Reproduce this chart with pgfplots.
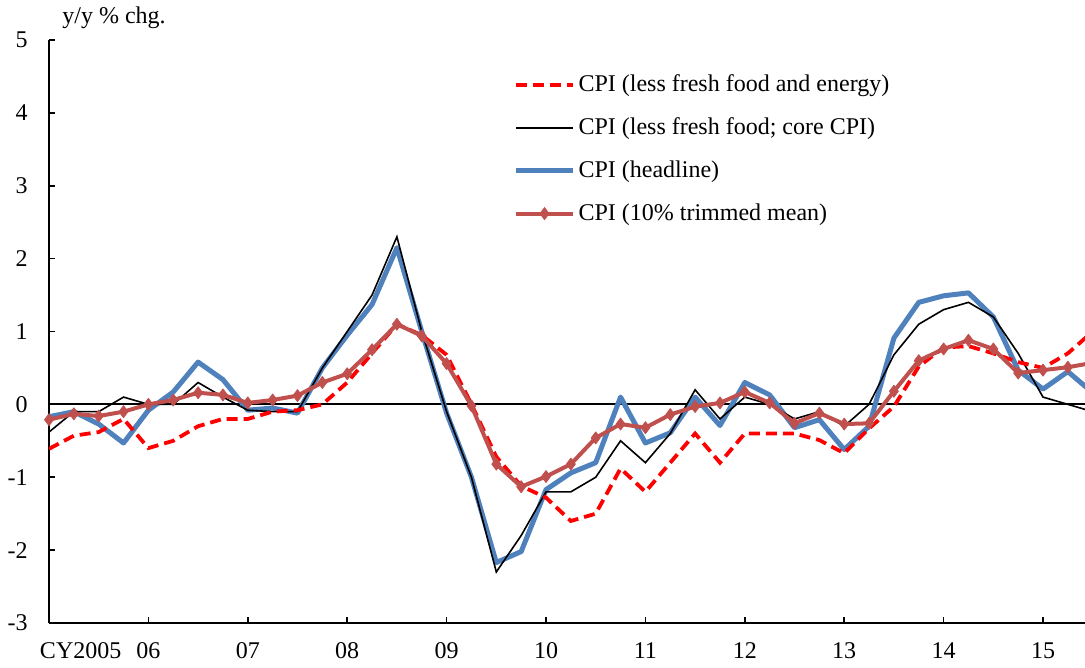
\documentclass[border=0pt]{standalone}
\usepackage{fontspec}
\setmainfont{Liberation Serif}
\usepackage{pgfplots}
\pgfplotsset{compat=1.18}
\usepackage{pgfplotstable}

\definecolor{cpiRed}{RGB}{255,0,0}
\definecolor{cpiBlue}{RGB}{79,129,189}
\definecolor{cpiTrim}{RGB}{192,80,77}

% quarterly, q=0 is 2005Q1
\pgfplotstableread{
q  ex     core   head   trim
0  -0.61  -0.38  -0.17  -0.21
1  -0.43  -0.10  -0.10  -0.13
2  -0.38  -0.10  -0.27  -0.16
3  -0.20   0.10  -0.53  -0.10
4  -0.60   0.00  -0.08   0.00
5  -0.50   0.00   0.17   0.06
6  -0.30   0.30   0.58   0.16
7  -0.20   0.10   0.34   0.13
8  -0.20  -0.08  -0.08   0.02
9  -0.10  -0.10  -0.05   0.06
10 -0.08  -0.10  -0.12   0.12
11  0.00   0.50   0.50   0.30
12  0.30   1.00   0.95   0.42
13  0.70   1.50   1.37   0.75
14  1.10   2.30   2.15   1.10
15  0.95   1.00   1.00   0.94
16  0.68  -0.10  -0.12   0.56
17  0.00  -1.00  -1.00  -0.02
18 -0.72  -2.30  -2.17  -0.82
19 -1.12  -1.80  -2.02  -1.13
20 -1.28  -1.20  -1.17  -0.99
21 -1.60  -1.20  -0.94  -0.82
22 -1.50  -1.00  -0.80  -0.46
23 -0.88  -0.50   0.10  -0.27
24 -1.20  -0.80  -0.53  -0.32
25 -0.80  -0.40  -0.39  -0.14
26 -0.40   0.20   0.10  -0.03
27 -0.80  -0.20  -0.29   0.02
28 -0.40   0.10   0.30   0.17
29 -0.40   0.00   0.13   0.02
30 -0.40  -0.20  -0.32  -0.26
31 -0.49  -0.10  -0.21  -0.12
32 -0.67  -0.30  -0.62  -0.27
33 -0.33   0.00  -0.30  -0.26
34 -0.03   0.68   0.91   0.18
35  0.52   1.10   1.40   0.60
36  0.78   1.30   1.49   0.76
37  0.80   1.40   1.53   0.88
38  0.70   1.20   1.20   0.76
39  0.58   0.70   0.47   0.43
40  0.50   0.10   0.21   0.47
41  0.70   0.00   0.45   0.51
42  1.00  -0.10   0.16   0.57
}\cpidata

\begin{document}
\fontsize{12}{14.4}\selectfont
\begin{tikzpicture}
\begin{axis}[
    scale only axis,
    width=518pt, height=291.5pt,
    xmin=0, xmax=41.69,
    ymin=-3, ymax=5,
    axis x line*=bottom,
    axis y line*=left,
    axis line style={line width=1pt, -},
    xtick={0,4,...,40},
    xticklabels={\makebox[0pt][l]{\hspace*{-4.5pt}CY2005},06,07,08,09,10,11,12,13,14,15},
    ytick={-3,-2,...,5},
    yticklabels={-3,-2,-1,0,1,2,3,4,5},
    tick align=inside,
    major tick length=3pt,
    tick style={black, line width=0.8pt},
    xticklabel style={anchor=base, inner sep=0pt, yshift=-17.5pt},
    yticklabel style={anchor=east, inner sep=0pt, xshift=-10.5pt},
    extra y ticks={0},
    extra y tick labels={},
    extra y tick style={grid=major, major grid style={black, line width=0.9pt}},
    legend style={at={(0.448,0.9417)}, anchor=north west, draw=none, fill=none,
        inner sep=0pt, row sep=11.3pt, nodes={inner sep=0pt},
        /tikz/every odd column/.style={column sep=1.5pt}},
    legend cell align=left,
    legend image code/.code={\draw[mark repeat=2,mark phase=2,#1] plot coordinates {(0pt,0pt) (14.25pt,0pt) (28.5pt,0pt)};},
]
\addlegendimage{cpiRed, line width=1.9pt, dash pattern=on 5.5pt off 3pt}
\addlegendentry{CPI (less fresh food and energy)}
\addlegendimage{black, line width=0.8pt}
\addlegendentry{CPI (less fresh food; core CPI)}
\addlegendimage{cpiBlue, line width=2.5pt}
\addlegendentry{CPI (headline)}
\addlegendimage{cpiTrim, line width=2pt, mark=diamond*, mark size=3pt, mark options={solid, line width=0.4pt, fill=cpiTrim, draw=cpiTrim}}
\addlegendentry{CPI (10\% trimmed mean)}

\addplot[forget plot, cpiBlue, line width=2.5pt, line join=round] table[x=q, y=head] {\cpidata};
\addplot[forget plot, black, line width=0.8pt, line join=miter] table[x=q, y=core] {\cpidata};
\addplot[forget plot, cpiRed, line width=1.9pt, dash pattern=on 5.5pt off 3pt] table[x=q, y=ex] {\cpidata};
\addplot[forget plot, cpiTrim, line width=2pt, line join=round, mark=diamond*, mark size=3pt,
    mark options={solid, line width=0.4pt, fill=cpiTrim, draw=cpiTrim}] table[x=q, y=trim] {\cpidata};
\end{axis}
\node[anchor=west, inner sep=0pt] at ([xshift=6.5pt, yshift=11pt]current axis.north west) {y/y \% chg.};
\pgfresetboundingbox
\path (-24.5pt,-22.5pt) rectangle (518pt,311.5pt);
\end{tikzpicture}
\end{document}
